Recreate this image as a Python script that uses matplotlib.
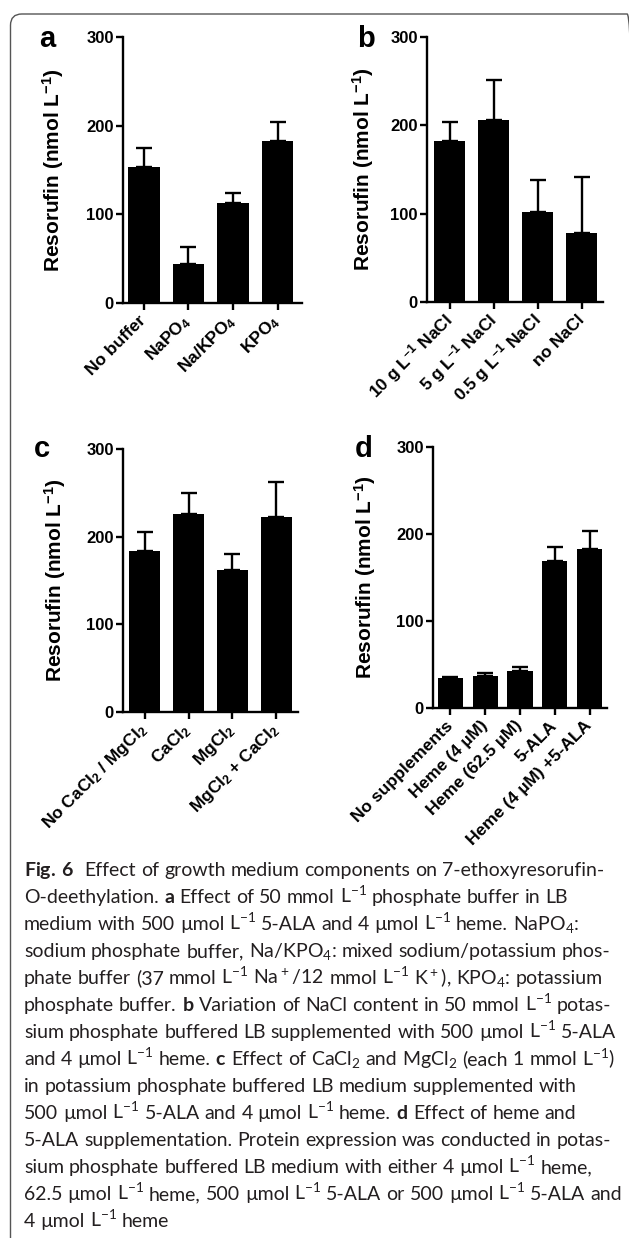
import numpy as np
import matplotlib
matplotlib.use('Agg')
import matplotlib.pyplot as plt
from matplotlib.patches import FancyBboxPatch

# Fonts: Arial-like bold for the graphs, Lato for the caption text
plt.rcParams['font.family'] = ['Liberation Sans', 'DejaVu Sans']
plt.rcParams['mathtext.fontset'] = 'custom'
plt.rcParams['mathtext.rm'] = 'Lato'
plt.rcParams['mathtext.bf'] = 'Lato:bold'
plt.rcParams['mathtext.sf'] = 'Liberation Sans:bold'
plt.rcParams['mathtext.default'] = 'rm'

# Panel a: phosphate buffer
a_labels = ['No buffer', r'NaPO$_\mathsf{4}$', r'Na/KPO$_\mathsf{4}$', r'KPO$_\mathsf{4}$']
a_means = [153, 44, 113, 183]
a_err = [22, 19, 11, 21]

# Panel b: NaCl content
b_labels = [r'10 g L$^\mathsf{-1}$ NaCl', r'5 g L$^\mathsf{-1}$ NaCl',
            r'0.5 g L$^\mathsf{-1}$ NaCl', 'no NaCl']
b_means = [182, 206, 102, 78]
b_err = [22, 45, 36, 63]

# Panel c: CaCl2 / MgCl2
c_labels = [r'No CaCl$_\mathsf{2}$ / MgCl$_\mathsf{2}$', r'CaCl$_\mathsf{2}$',
            r'MgCl$_\mathsf{2}$', r'MgCl$_\mathsf{2}$ + CaCl$_\mathsf{2}$']
c_means = [184, 226, 162, 222]
c_err = [21, 24, 18, 40]

# Panel d: heme and 5-ALA
d_labels = ['No supplements', 'Heme (4 µM)', 'Heme (62.5 µM)', '5-ALA',
            'Heme (4 µM) +5-ALA']
d_means = [35, 37, 43, 169, 183]
d_err = [1, 3, 4, 16, 21]

y_ticks = [0, 100, 200, 300]
y_label = r'Resorufin (nmol L$^\mathsf{-1}$)'

caption = [
    r'$\mathbf{Fig.{\,}6}$  Effect of growth medium components on 7-ethoxyresorufin-',
    r'O-deethylation. $\mathbf{a}$ Effect of 50 mmol L$^{-1}$ phosphate buffer in LB',
    r'medium with 500 µmol L$^{-1}$ 5-ALA and 4 µmol L$^{-1}$ heme. NaPO$_4$:',
    r'sodium phosphate buffer, Na/KPO$_4$: mixed sodium/potassium phos-',
    r'phate buffer (37 mmol L$^{-1}$ Na$^+$/12 mmol L$^{-1}$ K$^+$), KPO$_4$: potassium',
    r'phosphate buffer. $\mathbf{b}$ Variation of NaCl content in 50 mmol L$^{-1}$ potas-',
    r'sium phosphate buffered LB supplemented with 500 µmol L$^{-1}$ 5-ALA',
    r'and 4 µmol L$^{-1}$ heme. $\mathbf{c}$ Effect of CaCl$_2$ and MgCl$_2$ (each 1 mmol L$^{-1}$)',
    r'in potassium phosphate buffered LB medium supplemented with',
    r'500 µmol L$^{-1}$ 5-ALA and 4 µmol L$^{-1}$ heme. $\mathbf{d}$ Effect of heme and',
    r'5-ALA supplementation. Protein expression was conducted in potas-',
    r'sium phosphate buffered LB medium with either 4 µmol L$^{-1}$ heme,',
    r'62.5 µmol L$^{-1}$ heme, 500 µmol L$^{-1}$ 5-ALA or 500 µmol L$^{-1}$ 5-ALA and',
    r'4 µmol L$^{-1}$ heme',
]

W, H = 629, 1238
fig = plt.figure(figsize=(W / 100, H / 100), dpi=100)


def px_axes(x0, y0, x1, y1):
    return fig.add_axes([x0 / W, 1 - y1 / H, (x1 - x0) / W, (y1 - y0) / H])


def draw_panel(ax, labels, means, errs, xlim, width, label_x):
    x = np.arange(len(means))
    ax.bar(x, means, width=width, color='black', zorder=2)
    ax.errorbar(x, means, yerr=[np.zeros(len(errs)), errs], fmt='none',
                ecolor='black', elinewidth=1.7, capsize=5.5, capthick=1.7,
                zorder=1)
    ax.set_xlim(*xlim)
    ax.set_ylim(0, 300)
    ax.set_yticks(y_ticks)
    ax.set_xticks(x)
    ax.set_xticklabels(labels, rotation=45, ha='right', va='center',
                       rotation_mode='anchor', fontsize=12.5, fontweight='bold')
    for t in ax.get_yticklabels():
        t.set_fontweight('bold')
    ax.tick_params(width=1.7, length=5, direction='out', pad=1.5)
    ax.tick_params(axis='y', labelsize=12)
    ax.tick_params(axis='x', pad=6)
    for side in ['top', 'right']:
        ax.spines[side].set_visible(False)
    for side in ['left', 'bottom']:
        ax.spines[side].set_linewidth(1.7)
    ax.set_ylabel(y_label, fontsize=15, fontweight='bold')
    ax.yaxis.set_label_coords(label_x, 0.5)
    ax.patch.set_alpha(0)


ax_a = px_axes(123, 37, 302, 303)
draw_panel(ax_a, a_labels, a_means, a_err, (-0.47, 3.55), 0.7, -0.32)
ax_b = px_axes(427, 37, 603, 302)
draw_panel(ax_b, b_labels, b_means, b_err, (-0.52, 3.48), 0.7, -0.29)
ax_c = px_axes(123, 449, 298, 712)
draw_panel(ax_c, c_labels, c_means, c_err, (-0.5, 3.5), 0.71, -0.315)
ax_d = px_axes(433, 447, 607, 708)
draw_panel(ax_d, d_labels, d_means, d_err, (-0.5, 4.5), 0.72, -0.315)

# Panel letters
for letter, (px, py) in zip('abcd', [(47, 47), (366, 47), (42, 457), (364, 457)]):
    fig.text(px / W, 1 - py / H, letter, fontsize=21, fontweight='bold',
             ha='center', va='baseline')

# Rounded frame around the figure
frame = FancyBboxPatch((10.5 / W, 1 - 1250 / H), 628 / W, (1250 - 14) / H,
                       boxstyle='round,pad=0,rounding_size=0.018',
                       transform=fig.transFigure, fill=False,
                       edgecolor='#555555', linewidth=1.0, mutation_aspect=W / H)
fig.patches.append(frame)

# Caption, left aligned, set word by word; the font size makes the first
# line span the text block
renderer = fig.canvas.get_renderer()
cap_x0, cap_width = 24, 580
cap_y0, cap_step = 876, 27.0
probe = fig.text(0, 0, caption[0], fontsize=14, family='Lato')
cap_size = 14 * cap_width / probe.get_window_extent(renderer).width
probe.set_fontsize(cap_size)
probe.set_text('x x')
wide = probe.get_window_extent(renderer).width
probe.set_text('xx')
space = wide - probe.get_window_extent(renderer).width
probe.remove()

for i, line in enumerate(caption):
    y = 1 - (cap_y0 + i * cap_step) / H
    x = cap_x0
    for j, word in enumerate(line.split(' ')):
        if not word:
            x += space
            continue
        t = fig.text(x / W, y, word, fontsize=cap_size, family='Lato',
                     va='baseline', color='#231f20')
        x += t.get_window_extent(renderer).width + space

fig.savefig('out.png', dpi=100)
